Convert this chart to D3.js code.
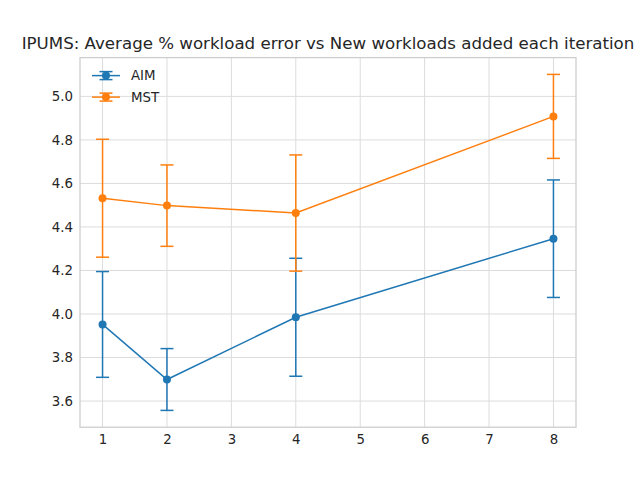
<!DOCTYPE html>
<html>
<head>
<meta charset="utf-8">
<script src="https://cdn.jsdelivr.net/npm/d3@7"></script>
<style>
  body { margin: 0; background: #fff; }
  svg { display: block; font-family: "DejaVu Sans", sans-serif; }
</style>
</head>
<body>
<div id="chart"></div>
<script>
// data
var iterations = [1, 2, 4, 8];
var aimMean = [3.952, 3.699, 3.985, 4.346];
var aimErr  = [0.243, 0.142, 0.271, 0.270];
var mstMean = [4.532, 4.498, 4.464, 4.908];
var mstErr  = [0.271, 0.187, 0.267, 0.193];
var xTicks = [1, 2, 3, 4, 5, 6, 7, 8];
var yTicks = [3.6, 3.8, 4.0, 4.2, 4.4, 4.6, 4.8, 5.0];
var title = "IPUMS: Average % workload error vs New workloads added each iteration";

var series = [
  { name: "AIM", color: "#1f77b4", mean: aimMean, err: aimErr },
  { name: "MST", color: "#ff7f0e", mean: mstMean, err: mstErr }
];

var width = 640, height = 480;
var margin = { left: 80, right: 64, top: 57.6, bottom: 52.8 };

var svg = d3.select("#chart").append("svg")
  .attr("width", width)
  .attr("height", height);

// matplotlib style 5% margins on the data limits
var xMin = d3.min(iterations), xMax = d3.max(iterations);
var xPad = (xMax - xMin) * 0.05;
var lo = d3.min(series, function(s) { return d3.min(s.mean, function(m, i) { return m - s.err[i]; }); });
var hi = d3.max(series, function(s) { return d3.max(s.mean, function(m, i) { return m + s.err[i]; }); });
var yPad = (hi - lo) * 0.05;

var x = d3.scaleLinear()
  .domain([xMin - xPad, xMax + xPad])
  .range([margin.left, width - margin.right]);
var y = d3.scaleLinear()
  .domain([lo - yPad, hi + yPad])
  .range([height - margin.bottom, margin.top]);

var gridColor = "#dcdcdc";
var textColor = "#262626";

// grid
svg.append("g").selectAll("line").data(xTicks).join("line")
  .attr("x1", function(d) { return x(d); }).attr("x2", function(d) { return x(d); })
  .attr("y1", margin.top).attr("y2", height - margin.bottom)
  .attr("stroke", gridColor).attr("stroke-width", 1);
svg.append("g").selectAll("line").data(yTicks).join("line")
  .attr("y1", function(d) { return y(d); }).attr("y2", function(d) { return y(d); })
  .attr("x1", margin.left).attr("x2", width - margin.right)
  .attr("stroke", gridColor).attr("stroke-width", 1);

// axes, ticks hidden, labels only
var xAxis = svg.append("g")
  .attr("transform", "translate(0," + (height - margin.bottom) + ")")
  .call(d3.axisBottom(x).tickValues(xTicks).tickSize(0).tickPadding(7).tickFormat(d3.format("d")));
var yAxis = svg.append("g")
  .attr("transform", "translate(" + margin.left + ",0)")
  .call(d3.axisLeft(y).tickValues(yTicks).tickSize(0).tickPadding(7).tickFormat(d3.format(".1f")));
[xAxis, yAxis].forEach(function(a) {
  a.select(".domain").remove();
  a.selectAll("text")
    .attr("fill", textColor)
    .style("font-size", "13.33px")
    .style("font-family", "DejaVu Sans, sans-serif");
});

// frame
svg.append("rect")
  .attr("x", margin.left).attr("y", margin.top)
  .attr("width", width - margin.left - margin.right)
  .attr("height", height - margin.top - margin.bottom)
  .attr("fill", "none").attr("stroke", "#cccccc").attr("stroke-width", 1.25);

var line = d3.line()
  .x(function(d) { return x(d.x); })
  .y(function(d) { return y(d.y); });

var cap = 6.5;

series.forEach(function(s) {
  var pts = iterations.map(function(it, i) { return { x: it, y: s.mean[i], e: s.err[i] }; });
  var g = svg.append("g");

  // error bars
  g.selectAll(".bar").data(pts).join("line")
    .attr("x1", function(d) { return x(d.x); }).attr("x2", function(d) { return x(d.x); })
    .attr("y1", function(d) { return y(d.y - d.e); }).attr("y2", function(d) { return y(d.y + d.e); })
    .attr("stroke", s.color).attr("stroke-width", 1.5);
  g.selectAll(".capTop").data(pts).join("line")
    .attr("x1", function(d) { return x(d.x) - cap; }).attr("x2", function(d) { return x(d.x) + cap; })
    .attr("y1", function(d) { return y(d.y + d.e); }).attr("y2", function(d) { return y(d.y + d.e); })
    .attr("stroke", s.color).attr("stroke-width", 1.5);
  g.selectAll(".capBot").data(pts).join("line")
    .attr("x1", function(d) { return x(d.x) - cap; }).attr("x2", function(d) { return x(d.x) + cap; })
    .attr("y1", function(d) { return y(d.y - d.e); }).attr("y2", function(d) { return y(d.y - d.e); })
    .attr("stroke", s.color).attr("stroke-width", 1.5);

  g.append("path").datum(pts)
    .attr("d", line)
    .attr("fill", "none").attr("stroke", s.color).attr("stroke-width", 1.5);

  g.selectAll("circle").data(pts).join("circle")
    .attr("cx", function(d) { return x(d.x); })
    .attr("cy", function(d) { return y(d.y); })
    .attr("r", 4)
    .attr("fill", s.color);
});

// legend (no frame)
var legend = svg.append("g").attr("transform", "translate(" + (margin.left + 12) + "," + (margin.top + 18) + ")");
series.forEach(function(s, i) {
  var row = legend.append("g").attr("transform", "translate(0," + (i * 21.5) + ")");
  row.append("line").attr("x1", 0).attr("x2", 28).attr("y1", 0).attr("y2", 0)
    .attr("stroke", s.color).attr("stroke-width", 1.5);
  row.append("line").attr("x1", 14).attr("x2", 14).attr("y1", -4).attr("y2", 4)
    .attr("stroke", s.color).attr("stroke-width", 1.5);
  row.append("line").attr("x1", 14 - cap).attr("x2", 14 + cap).attr("y1", -4).attr("y2", -4)
    .attr("stroke", s.color).attr("stroke-width", 1.5);
  row.append("line").attr("x1", 14 - cap).attr("x2", 14 + cap).attr("y1", 4).attr("y2", 4)
    .attr("stroke", s.color).attr("stroke-width", 1.5);
  row.append("circle").attr("cx", 14).attr("cy", 0).attr("r", 4).attr("fill", s.color);
  row.append("text").attr("x", 39).attr("y", 0).attr("dy", "0.35em")
    .attr("fill", textColor)
    .style("font-size", "13.33px")
    .text(s.name);
});

// title
svg.append("text")
  .attr("x", (margin.left + width - margin.right) / 2)
  .attr("y", margin.top - 9)
  .attr("text-anchor", "middle")
  .attr("fill", textColor)
  .style("font-size", "16.65px")
  .text(title);
</script>
</body>
</html>
